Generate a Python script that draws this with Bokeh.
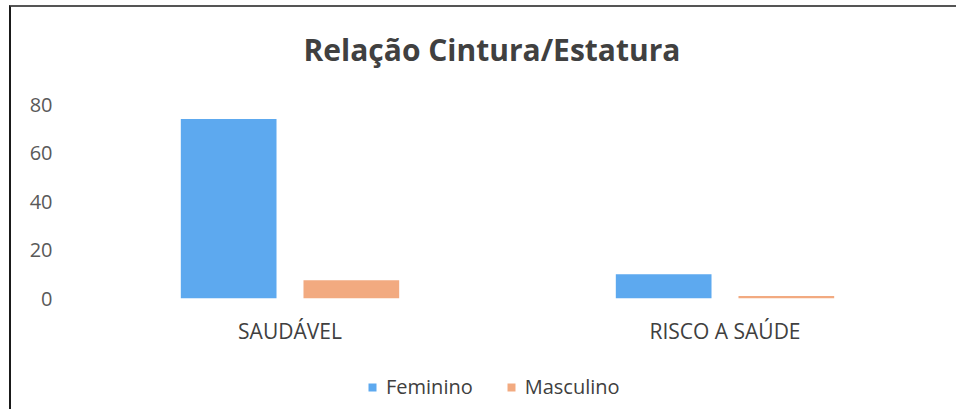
from bokeh.plotting import figure
from bokeh.layouts import column
from bokeh.models import FactorRange, Range1d, Legend, LegendItem, FixedTicker, Label
from bokeh.embed import file_html
from bokeh.resources import INLINE
from bokeh.transform import dodge

title_text = "Relação Cintura/Estatura"
categories = ["SAUDÁVEL", "RISCO A SAÚDE"]
series = ["Feminino", "Masculino"]
feminino = [74, 10]
masculino = [7.5, 1]
y_ticks = [0, 20, 40, 60, 80]

colors = {"Feminino": "#5DA9EF", "Masculino": "#F2AA80"}
FONT = "Open Sans"

W, HT, H1, H2 = 945, 70, 270, 62
BL, BR = 61, 14  # left / right borders shared by all rows


def strip(height):
    f = figure(title=None, x_range=Range1d(BL, W - BR), y_range=Range1d(0, height),
               width=W, height=height, output_backend="svg", toolbar_location=None,
               x_axis_location=None, y_axis_location=None,
               min_border_left=BL, min_border_right=BR, min_border_top=0, min_border_bottom=0)
    f.grid.visible = False
    f.outline_line_color = None
    return f


# title strip
ts = strip(HT)
ts.add_layout(Label(x=480.5, y=28, text=title_text, text_align="center",
                    text_baseline="alphabetic", text_font=FONT, text_font_size="30px",
                    text_font_style="bold", text_color="#404040"))

# main chart
p = figure(x_range=FactorRange(*categories), y_range=Range1d(0, 80),
           width=W, height=H1, output_backend="svg", toolbar_location=None,
           min_border_left=BL, min_border_right=BR, min_border_top=27,
           min_border_bottom=45)

src = {"cat": categories, "Feminino": feminino, "Masculino": masculino}
p.vbar(x=dodge("cat", -0.141, range=p.x_range), top="Feminino", width=0.22,
       source=src, color=colors["Feminino"], line_color=None)
p.vbar(x=dodge("cat", 0.141, range=p.x_range), top="Masculino", width=0.22,
       source=src, color=colors["Masculino"], line_color=None)

p.outline_line_color = None
p.xgrid.grid_line_color = None
p.ygrid.grid_line_color = None

p.yaxis.ticker = FixedTicker(ticks=y_ticks)
p.yaxis.axis_line_color = None
p.yaxis.major_tick_line_color = None
p.yaxis.minor_tick_line_color = None
p.yaxis.major_label_standoff = 14
p.yaxis.major_label_text_font = FONT
p.yaxis.major_label_text_font_size = "20px"
p.yaxis.major_label_text_color = "#595959"

p.xaxis.axis_line_color = None
p.xaxis.major_tick_line_color = None
p.xaxis.major_label_standoff = 12
p.xaxis.major_label_text_font = FONT
p.xaxis.major_label_text_font_size = "21px"
p.xaxis.major_label_text_color = "#404040"

# legend strip
lg = strip(H2)
k1 = lg.vbar(x=[-500], top=[0], width=1, color=colors["Feminino"], line_color=None)
k2 = lg.vbar(x=[-500], top=[0], width=1, color=colors["Masculino"], line_color=None)

legend = Legend(items=[LegendItem(label=series[0], renderers=[k1]),
                       LegendItem(label=series[1], renderers=[k2])],
                orientation="horizontal", location=(356 - BL, 9))
legend.glyph_width = 10
legend.glyph_height = 10
legend.label_text_font = FONT
legend.label_text_font_size = "20px"
legend.label_text_color = "#404040"
legend.border_line_color = None
legend.background_fill_alpha = 0
legend.spacing = 33
legend.label_standoff = 9
legend.padding = 0
legend.margin = 0
lg.add_layout(legend, "center")

layout = column(ts, p, lg, spacing=0)
layout.styles = {"border-left": "2px solid #1a1a1a", "border-top": "2px solid #555555",
                 "margin-left": "9px", "margin-top": "5px"}

open("out.html", "w").write(file_html(layout, INLINE))
